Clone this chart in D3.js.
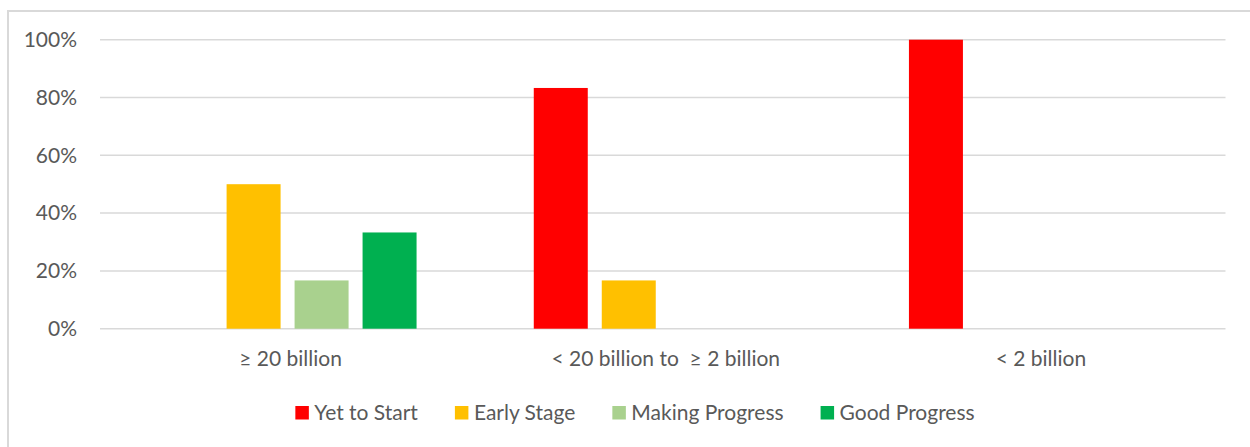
<!DOCTYPE html>
<html>
<head>
<meta charset="utf-8">
<script src="https://cdn.jsdelivr.net/npm/d3@7"></script>
<style>
html,body{margin:0;padding:0;background:#fff;}
svg{display:block;font-family:Lato,"Open Sans",sans-serif;}
</style>
</head>
<body>
<svg id="chart" width="1250" height="447"></svg>
<script>
const categories = ["\u2265 20 billion", "< 20 billion to  \u2265 2 billion", "< 2 billion"];
const seriesNames = ["Yet to Start", "Early Stage", "Making Progress", "Good Progress"];
const seriesColors = ["#ff0000", "#ffc000", "#a9d18e", "#00b050"];
const yetToStart = [0, 0.833, 1.0];
const earlyStage = [0.50, 0.167, 0];
const makingProgress = [0.167, 0, 0];
const goodProgress = [0.333, 0, 0];
const yTicks = [0, 0.2, 0.4, 0.6, 0.8, 1.0];

const seriesValues = [yetToStart, earlyStage, makingProgress, goodProgress];

const svg = d3.select("#chart");
const W = 1250, H = 447;
const plot = {left: 100, right: 1225.5, top: 39.7, bottom: 328.7};
const FS = 21;

// chart border (left & top)
svg.append("path")
  .attr("d", `M8,${H} L8,11 L${W},11`)
  .attr("fill", "none").attr("stroke", "#d9d9d9").attr("stroke-width", 2);

const y = d3.scaleLinear().domain([0, 1]).range([plot.bottom, plot.top]);
const x0 = d3.scaleBand().domain(categories).range([plot.left, plot.right]).padding(0);
const x1 = d3.scaleBand().domain(seriesNames).range([0, x0.bandwidth()])
  .paddingInner(14 / 68).paddingOuter(0.862);

// gridlines
svg.append("g").selectAll("line").data(yTicks).join("line")
  .attr("x1", plot.left).attr("x2", plot.right)
  .attr("y1", d => y(d)).attr("y2", d => y(d))
  .attr("stroke", "#d9d9d9").attr("stroke-width", 1.5);

// y tick labels
svg.append("g").selectAll("text").data(yTicks).join("text")
  .attr("x", 77).attr("y", d => y(d)).attr("dy", "0.35em")
  .attr("text-anchor", "end").attr("fill", "#595959").attr("font-size", FS)
  .text(d => d3.format(".0%")(d));

// bars
const groups = svg.append("g").selectAll("g").data(categories).join("g")
  .attr("transform", c => `translate(${x0(c)},0)`);
groups.selectAll("rect")
  .data((c, i) => seriesNames.map((s, j) => ({s, v: seriesValues[j][i], color: seriesColors[j]})))
  .join("rect")
  .attr("x", d => x1(d.s)).attr("width", x1.bandwidth())
  .attr("y", d => y(d.v)).attr("height", d => y(0) - y(d.v))
  .attr("fill", d => d.color);

// category labels
svg.append("g").selectAll("text").data(categories).join("text")
  .attr("x", c => x0(c) + x0.bandwidth() / 2 + 3).attr("y", 366)
  .attr("text-anchor", "middle").attr("fill", "#595959").attr("font-size", FS)
  .style("white-space", "pre").attr("xml:space", "preserve")
  .text(c => c);

// legend
const legend = svg.append("g");
const items = legend.selectAll("g").data(seriesNames).join("g");
items.append("rect").attr("width", 13.5).attr("height", 13.5).attr("y", -7)
  .attr("fill", (d, i) => seriesColors[i]);
items.append("text").attr("x", 19).attr("dy", "0.35em")
  .attr("fill", "#595959").attr("font-size", FS).text(d => d);
let cx = 0;
const widths = [];
items.each(function() {
  const w = d3.select(this).select("text").node().getComputedTextLength();
  widths.push(19 + w);
});
const gap = 37;
const total = d3.sum(widths) + gap * (widths.length - 1);
const startX = 635 - total / 2;
items.attr("transform", (d, i) => {
  const t = `translate(${startX + cx},413)`;
  cx += widths[i] + gap;
  return t;
});
</script>
</body>
</html>
